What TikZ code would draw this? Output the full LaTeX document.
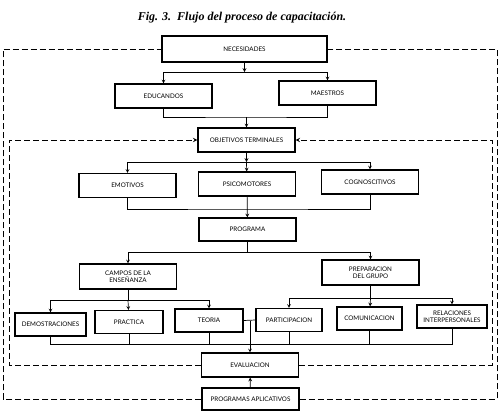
\documentclass[tikz,border=0pt]{standalone}
\usepackage{fontspec}
\setmainfont{Liberation Serif}
\setsansfont{Lato}
\usepackage{tikz}
\usetikzlibrary{arrows}
\tikzstyle{box} = [rectangle, draw=black, line width=1.1pt, minimum width=97pt, minimum height=24pt, inner sep=1pt, align=center, font=\sffamily\fontsize{6.3}{7.2}\selectfont]
\tikzstyle{smallbox} = [box, minimum width=68pt, minimum height=23pt]
\tikzstyle{arrow} = [line width=0.7pt,->,>=stealth]
\tikzstyle{connect} = [line width=0.7pt,-]
\tikzstyle{dashline} = [line width=1pt, dash pattern=on 6pt off 3pt]
\tikzstyle{feedback} = [dashline,->,>=stealth]

\begin{document}
\begin{tikzpicture}[x=1pt,y=-1pt]
\useasboundingbox (0,0) rectangle (504,413);

\node(title) at (242,18) {\fontsize{12}{14}\selectfont\bfseries\itshape Fig. 3.\ \ Flujo del proceso de capacitaci\'on.};

\node(nec)[box, minimum width=165pt, minimum height=26pt] at (244.5,49) {NECESIDADES};
\node(edu)[box] at (163.5,96) {EDUCANDOS};
\node(mae)[box] at (327.5,93) {MAESTROS};
\node(obj)[box] at (246.5,140) {OBJETIVOS TERMINALES};
\node(emo)[box] at (127.5,185.5) {EMOTIVOS};
\node(psi)[box] at (247,184) {PSICOMOTORES};
\node(cog)[box] at (370,182) {COGNOSCITIVOS};
\node(pro)[box, minimum height=23pt] at (247.5,229.5) {PROGRAMA};
\node(cam)[box, minimum height=25pt] at (128,276.5) {CAMPOS DE LA\\ENSE\~NANZA};
\node(pre)[box, minimum height=25pt] at (370.5,272.5) {PREPARACION\\DEL GRUPO};
\node(dem)[smallbox, minimum width=71pt] at (50.5,324.5) {DEMOSTRACIONES};
\node(pra)[smallbox] at (129,322) {PRACTICA};
\node(teo)[smallbox] at (209,320.5) {TEORIA};
\node(par)[smallbox, minimum width=66pt] at (289,320) {PARTICIPACION};
\node(com)[smallbox, minimum width=65pt] at (369.5,318.5) {COMUNICACION};
\node(rel)[smallbox, minimum width=70pt] at (452,316.5) {RELACIONES\\INTERPERSONALES};
\node(eva)[box] at (250,365) {EVALUACION};
\node(apl)[box, minimum height=22pt] at (250.5,399) {PROGRAMAS APLICATIVOS};

% junctions
\coordinate (j1) at (244.5,72);
\coordinate (j2) at (246.5,117);
\coordinate (j3) at (246.5,162);
\coordinate (j4) at (247,209);
\coordinate (j5) at (247.5,252);
\coordinate (j6) at (128,300);
\coordinate (j7) at (370.5,298);
\coordinate (tp) at (250,320.5);
\coordinate (busl) at (50.5,344);
\coordinate (busr) at (452,344);

\draw [arrow] (nec) -- (j1);
\draw [arrow] (j1) -| (edu.north);
\draw [arrow] (j1) -| (mae.north);
\draw [connect] (edu.south) |- (j2) -| (mae.south);
\draw [arrow] (j2) -- (obj);

\draw [arrow] (obj) -- (j3);
\draw [arrow] (j3) -| (emo.north);
\draw [arrow] (j3) -- (psi);
\draw [arrow] (j3) -| (cog.north);
\draw [connect] (emo.south) |- (j4) -| (cog.south);
\draw [arrow] (psi) -- (pro);

\draw [connect] (pro) -- (j5);
\draw [arrow] (j5) -| (cam.north);
\draw [arrow] (j5) -| (pre.north);

\draw [connect] (cam) -- (j6);
\draw [arrow] (j6) -| (dem.north);
\draw [arrow] (j6) -- (pra);
\draw [arrow] (j6) -| (teo.north);
\draw [connect] (pre) -- (j7);
\draw [arrow] (j7) -| (par.north);
\draw [arrow] (j7) -- (com);
\draw [arrow] (j7) -| (rel.north);

\draw [connect] (dem.south) -- (busl) -- (busr) -- (rel.south);
\foreach \n in {pra,teo,par,com}
  \draw [connect] (\n.south) -- (\n.south |- busl);
\draw [connect] (teo.east) -- (par.west);
\draw [arrow] (tp) -- (eva);
\draw [arrow] (apl) -- (eva);

% feedback loops
\coordinate (oleft) at (3,49);
\coordinate (oright) at (497,49);
\coordinate (ileft) at (9,140);
\coordinate (iright) at (492,140);
\draw [dashline] (apl.west) -| (oleft) -- (nec.west);
\draw [dashline] (apl.east) -| (oright) -- (nec.east);
\draw [feedback] (eva.west) -| (ileft) -- (obj.west);
\draw [feedback] (eva.east) -| (iright) -- (obj.east);

\end{tikzpicture}
\end{document}
